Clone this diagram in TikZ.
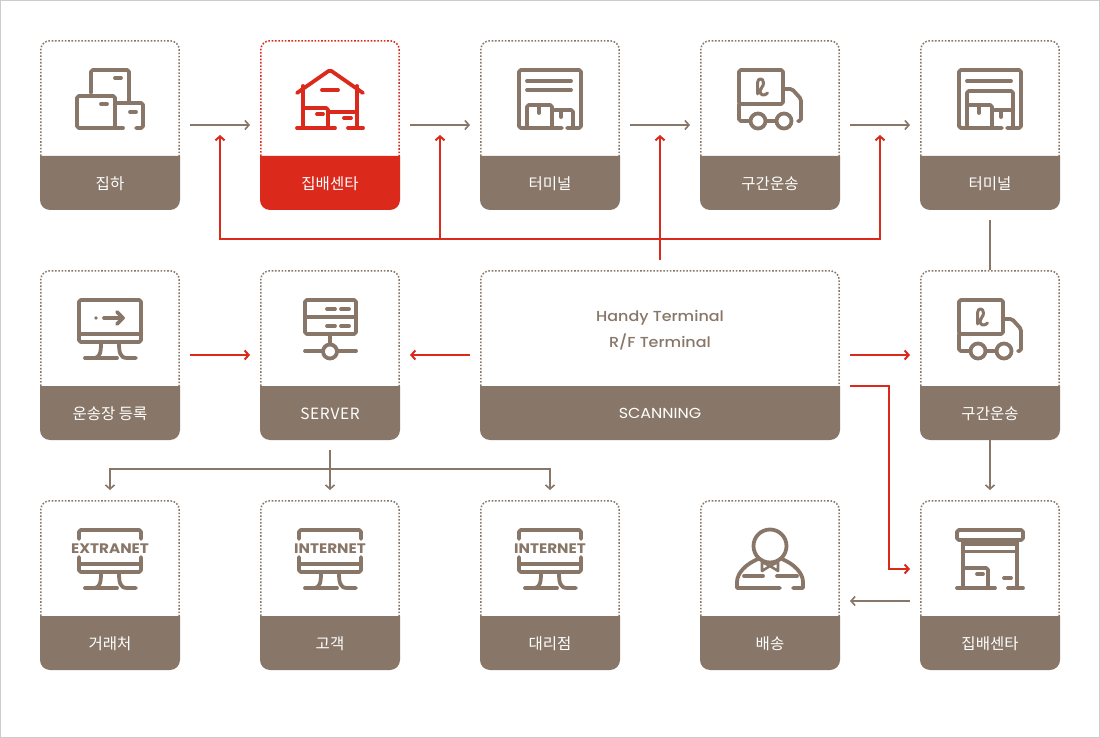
\documentclass[tikz,border=0pt]{standalone}
\usepackage{fontspec}
\setmainfont{Noto Sans CJK KR}
\newfontfamily\pop[FakeStretch=1.1]{Poppins}
\newfontfamily\popm[FakeStretch=1.1]{Poppins Medium}
\newfontfamily\lat[LetterSpace=4]{Noto Sans CJK KR}
\usetikzlibrary{arrows.meta}
\definecolor{brn}{HTML}{887768}
\definecolor{rd}{HTML}{DB2A1C}
\tikzset{
  cardnode/.style={minimum height=170pt,inner sep=0pt,outer sep=0pt},
  lab/.style={text=white,font=\fontsize{15.5}{15.5}\selectfont,inner sep=0pt},
  ico/.style={draw=#1,line width=3.8pt,line cap=round,line join=round,rounded corners=1.8pt},
  ico/.default=brn,
  dots/.style={draw=#1,line width=1.5pt,dash pattern=on 1.6pt off 1.7pt,rounded corners=9pt},
  gline/.style={draw=brn,line width=1.6pt,-{Straight Barb[length=4pt,width=9pt,line width=1.6pt]}},
  rline/.style={draw=rd,line width=2pt,-{Straight Barb[length=4pt,width=9pt,line width=2pt]}},
  gap/.style={shorten <=10pt,shorten >=10pt},
  plain/.style={inner sep=0pt,text=brn,font=\popm\fontsize{14.5}{15}\selectfont,anchor=base},
}
% \card{name}{x}{y}{width}{colour}{label}{icon}
\newcommand{\card}[7]{%
  \begin{scope}[shift={(#2,#3)}]
    \path[dots=#5] (0.8,116) -- (0.8,0.8) -- (#4-0.8,0.8) -- (#4-0.8,116);
    \fill[#5] (0,116) -- (0,160) .. controls (0,165.5) and (4.5,170) .. (10,170) -- (#4-10,170) .. controls (#4-4.5,170) and (#4,165.5) .. (#4,160) -- (#4,116) -- cycle;
    \node[cardnode,minimum width=#4 pt] (#1) at (#4/2,85) {};
    \node[lab] (#1l) at (#4/2,143.7) {#6};
    #7
  \end{scope}}
\newcommand{\iBoxes}{%
  \draw[ico] (51,53) -- (51,30) -- (89,30) -- (89,62);
  \draw[ico] (75,38) -- (81,38);
  \draw[ico] (37,56) rectangle (75,88);
  \draw[ico] (61,64) -- (67,64);
  \draw[ico] (76,63) -- (103,63) -- (103,88) -- (96,88);
  \draw[ico] (75,88) -- (83,88);
  \draw[ico] (90,72) -- (96,72);}
\newcommand{\iHouse}{%
  \draw[ico=rd] (37,53) -- (70,30) -- (103,53);
  \draw[ico=rd] (62,50) -- (78,50);
  \draw[ico=rd] (43,46) -- (43,88);
  \draw[ico=rd] (97,46) -- (97,88);
  \draw[ico=rd] (37,88) -- (75,88);
  \draw[ico=rd] (88,88) -- (103,88);
  \draw[ico=rd] (43,68) -- (68,68) -- (68,88);
  \draw[ico=rd] (68,72) -- (97,72);
  \draw[ico=rd] (57,74) -- (63,74);
  \draw[ico=rd] (84,78) -- (91,78);}
\newcommand{\iStore}{%
  \draw[ico] (37,30) rectangle (103,40);
  \draw[ico] (43,44) -- (97,44);
  \draw[ico] (43,51.5) -- (97,51.5);
  \draw[ico] (43,42) -- (43,88);
  \draw[ico] (97,42) -- (97,88);
  \draw[ico] (37,88) -- (75,88);
  \draw[ico] (88,88) -- (103,88);
  \draw[ico] (43,68) -- (68,68) -- (68,88);
  \draw[ico] (57,74) -- (63,74);
  \draw[ico] (84,78) -- (91,78);}
\newcommand{\iTermFrame}{%
  \draw[ico] (82,88) -- (39,88) -- (39,30) -- (101,30) -- (101,88) -- (87,88);
  \draw[ico] (47,41) -- (91,41);}
\newcommand{\iTermA}{%
  \iTermFrame
  \draw[ico] (47,50) -- (91,50);
  \draw[ico] (47,88) -- (47,65) -- (72,65) -- (72,88);
  \draw[ico] (72,70) -- (93,70) -- (93,88);
  \draw[ico] (59,65) -- (59,73);
  \draw[ico] (81,70) -- (81,77);}
\newcommand{\iTermB}{%
  \iTermFrame
  \draw[ico] (47,88) -- (47,51) -- (93,51) -- (93,88);
  \draw[ico] (47,65) -- (72,65) -- (72,88);
  \draw[ico] (72,70) -- (93,70);
  \draw[ico] (59,65) -- (59,73);
  \draw[ico] (81,70) -- (81,77);}
\newcommand{\iTruck}{%
  \draw[ico] (39,30) rectangle (83,64);
  \draw[ico] (39,64) -- (39,81) -- (50,81);
  \draw[ico] (58,81) circle[radius=7.5];
  \draw[ico] (84,81) circle[radius=7.5];
  \draw[ico] (66,81) -- (76,81);
  \draw[ico] (83,49) -- (92,49) -- (101,59) -- (101,81) -- (98,81);
  \draw[draw=brn,line width=3pt,line cap=round,line join=round] (57.5,54) -- (57.5,43) .. controls (57.5,37.5) and (63.5,37.5) .. (63.5,43) .. controls (63.5,47) and (60,48) .. (60,51) .. controls (60,56) and (65,56) .. (67.5,53);}
\newcommand{\iStand}{%
  \draw[ico] (39,64) -- (101,64);
  \draw[ico,rounded corners=0pt] (61,73) .. controls (61,82) and (60,87) .. (55,88);
  \draw[ico] (45,88) -- (77,88);
  \draw[ico,rounded corners=0pt] (79,73) .. controls (79,82) and (80,88) .. (87,88) -- (96,88);}
\newcommand{\iMonitor}{%
  \draw[ico] (39,30) rectangle (101,72);
  \iStand
  \fill[brn] (56,48) circle[radius=1.8];
  \draw[ico] (64,48) -- (83,48);
  \draw[ico] (77,42) -- (83,48) -- (77,54);}
\newcommand{\iServer}{%
  \draw[ico] (45,30) rectangle (96,64);
  \draw[ico] (45,47) -- (96,47);
  \draw[ico] (67,39) -- (75,39);
  \draw[ico] (81,39) -- (89,39);
  \draw[ico] (67,56) -- (75,56);
  \draw[ico] (81,56) -- (89,56);
  \draw[ico] (70,64) -- (70,74);
  \draw[ico] (70,81.5) circle[radius=7];
  \draw[ico] (45,81) -- (62,81);
  \draw[ico] (78,81) -- (96,81);}
\newcommand{\iNet}[1]{%
  \draw[ico] (39,39) -- (39,30) -- (101,30) -- (101,39);
  \draw[ico] (39,57) -- (39,72) -- (101,72) -- (101,57);
  \iStand
  \node[inner sep=0pt,text=brn,font=\pop\bfseries\fontsize{13.8}{14}\selectfont] (#1) at (70,48.8) {#1};}
\newcommand{\iPerson}{%
  \draw[ico] (70,46) circle[radius=16.5];
  \draw[ico,rounded corners=0pt] (58,59) .. controls (46,64) and (37,73) .. (37,82) -- (37,88) -- (80,88);
  \draw[ico,rounded corners=0pt] (82,59) .. controls (94,64) and (103,73) .. (103,82) -- (103,88) -- (93,88);
  \draw[ico] (44,76) -- (63,76);
  \draw[ico] (77,76) -- (97,76);
  \draw[draw=brn,line width=2.6pt,line join=round] (70,66) -- (62,62) -- (62,71) -- cycle;
  \draw[draw=brn,line width=2.6pt,line join=round] (70,66) -- (78,62) -- (78,71) -- cycle;}
\begin{document}
\begin{tikzpicture}[x=1pt,y=-1pt]
\useasboundingbox (0,0) rectangle (1100,738);
\fill[white] (0,0) rectangle (1100,738);
\draw[draw=black!20,line width=1pt] (0.5,0.5) rectangle (1099.5,737.5);
% row 1
\card{a1}{40}{40}{140}{brn}{집하}{\iBoxes}
\card{a2}{260}{40}{140}{rd}{집배센타}{\iHouse}
\card{a3}{480}{40}{140}{brn}{터미널}{\iTermA}
\card{a4}{700}{40}{140}{brn}{구간운송}{\iTruck}
\card{a5}{920}{40}{140}{brn}{터미널}{\iTermB}
% row 2
\card{b1}{40}{270}{140}{brn}{운송장 등록}{\iMonitor}
\card{b2}{260}{270}{140}{brn}{\lat SERVER}{\iServer}
\card{b3}{480}{270}{360}{brn}{\pop\fontsize{14.5}{15}\selectfont SCANNING}{
  \node[plain] (ht) at (180,51.2) {Handy Terminal};
  \node[plain] (rf) at (180,77) {R/F Terminal};}
\card{b4}{920}{270}{140}{brn}{구간운송}{\iTruck}
% row 3
\card{c1}{40}{500}{140}{brn}{거래처}{\iNet{EXTRANET}}
\card{c2}{260}{500}{140}{brn}{고객}{\iNet{INTERNET}}
\card{c3}{480}{500}{140}{brn}{대리점}{\iNet{INTERNET}}
\card{c4}{700}{500}{140}{brn}{배송}{\iPerson}
\card{c5}{920}{500}{140}{brn}{집배센타}{\iStore}
% grey connectors
\draw[gline,gap] (a1) -- (a2);
\draw[gline,gap] (a2) -- (a3);
\draw[gline,gap] (a3) -- (a4);
\draw[gline,gap] (a4) -- (a5);
\draw[draw=brn,line width=1.6pt,shorten <=10pt] (a5.south) -- (b4.north);
\draw[gline,shorten >=10pt] (b4.south) -- (c5.north);
\coordinate (c5w) at (910,601);
\coordinate (c4e) at (850,601);
\draw[gline] (c5w) -- (c4e);
\coordinate (tj) at (330,469);
\draw[gline,gap] (b2.south) -- (c2.north);
\draw[gline,shorten >=10pt] (tj) -| (c1.north);
\draw[gline,shorten >=10pt] (tj) -| (c3.north);
% red connectors
\draw[rline,gap] (b1) -- (b2);
\draw[rline,gap] (b3.west) -- (b2.east);
\draw[rline,gap] (b3.east) -- (b4.west);
\coordinate (sa) at (850,386);
\coordinate (sb) at (889,386);
\coordinate (sc) at (889,569);
\coordinate (sd) at (910,569);
\draw[rline,rounded corners=0pt] (sa) -- (sb) -- (sc) -- (sd);
\coordinate (r0) at (660,260);
\coordinate (r1) at (660,135);
\coordinate (r2a) at (220,239);
\coordinate (r2b) at (220,135);
\coordinate (r3a) at (440,239);
\coordinate (r3b) at (440,135);
\coordinate (r4a) at (880,239);
\coordinate (r4b) at (880,135);
\draw[rline] (r0) -- (r1);
\draw[rline] (r2a) -- (r2b);
\draw[rline] (r3a) -- (r3b);
\draw[rline] (r4a) -- (r4b);
\draw[draw=rd,line width=2pt,line cap=rect] (r2a) -- (r4a);
\end{tikzpicture}
\end{document}
